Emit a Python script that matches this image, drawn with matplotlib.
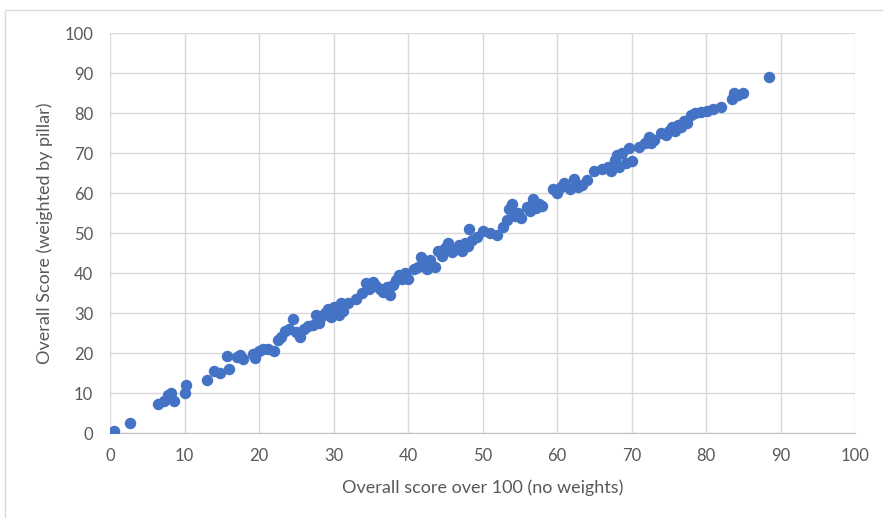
import matplotlib
matplotlib.use("Agg")
import matplotlib.pyplot as plt
from matplotlib.patches import Rectangle

# overall score over 100 (no weights) vs weighted by pillar
x_vals = [0.5, 2.7, 6.5, 7.3, 7.8, 8.2, 8.6, 10.0, 10.2,
          13.0, 14.0, 14.8, 15.7, 16.0, 17.0, 17.5, 17.8,
          19.2, 19.5, 20.0, 20.5, 21.2, 22.0, 22.6, 23.0, 23.5, 24.0, 24.6, 25.0, 25.5,
          26.0, 26.6, 27.2, 27.6, 28.0, 28.5, 28.8, 29.2, 29.6, 30.0, 30.3, 30.7, 31.0, 31.3,
          32.0, 33.0, 33.8, 34.4, 34.8, 35.3, 35.7, 36.2, 36.6, 37.2, 37.6, 38.0, 38.4,
          38.8, 39.2, 39.6, 40.0, 40.8, 41.3, 41.8, 42.2, 42.6, 43.0, 43.6,
          44.0, 44.5, 45.0, 45.4, 45.9, 46.4, 46.8, 47.2, 47.6, 48.0, 48.2, 48.6, 49.2,
          50.0, 51.0, 52.0, 52.8, 53.3, 53.6, 54.0, 54.4, 54.8, 55.2,
          56.0, 56.4, 56.8, 57.2, 57.6, 58.0,
          59.5, 60.0, 60.5, 61.0, 61.8, 62.3, 62.8, 63.4, 64.0,
          65.0, 66.0, 66.8, 67.3, 67.8, 68.0, 68.3, 68.7, 69.2, 69.6, 70.0,
          71.0, 71.8, 72.3, 72.6, 73.0, 74.0, 74.6, 75.0, 75.4, 75.8, 76.2, 76.6, 77.0,
          77.5, 78.0, 78.5, 79.3, 80.2, 81.0, 82.0,
          83.5, 83.7, 84.3, 85.0, 88.5]
y_vals = [0.5, 2.5, 7.3, 8.0, 9.5, 10.0, 8.0, 10.0, 12.0,
          13.3, 15.5, 15.0, 19.3, 16.0, 19.0, 19.6, 18.6,
          19.8, 18.8, 20.5, 21.0, 21.0, 20.5, 23.2, 24.0, 25.6, 26.0, 28.6, 25.2, 24.0,
          26.0, 26.8, 27.0, 29.6, 27.6, 29.2, 30.0, 31.0, 29.0, 31.6, 30.5, 29.5, 32.6, 30.4,
          32.6, 33.5, 35.0, 37.6, 36.0, 37.8, 36.8, 36.0, 35.2, 36.6, 34.6, 37.0, 38.2,
          39.6, 38.6, 40.0, 38.4, 41.0, 41.6, 44.0, 42.0, 41.0, 43.2, 41.6,
          45.6, 44.2, 46.2, 47.6, 45.2, 46.0, 47.0, 45.6, 47.4, 46.8, 51.0, 48.2, 49.0,
          50.6, 50.0, 49.6, 51.6, 53.2, 56.0, 57.2, 54.2, 55.0, 53.8,
          56.6, 55.6, 58.6, 56.2, 57.2, 56.8,
          61.0, 60.0, 61.6, 62.6, 61.0, 63.6, 61.4, 62.0, 63.2,
          65.6, 66.0, 66.6, 65.6, 68.2, 69.6, 66.6, 70.0, 67.6, 71.2, 68.0,
          71.6, 72.6, 74.0, 72.6, 73.2, 75.0, 74.6, 75.4, 76.4, 75.6, 77.0, 76.4, 78.0,
          77.6, 79.6, 80.0, 80.2, 80.6, 81.0, 81.6,
          83.6, 85.0, 84.6, 85.0, 89.0]

x_ticks = list(range(0, 101, 10))
y_ticks = list(range(0, 101, 10))

plt.rcParams['font.family'] = ['Lato', 'DejaVu Sans']

fig = plt.figure(figsize=(8.83, 5.18), dpi=100)
ax = fig.add_axes([110 / 883, 85 / 518, 745 / 883, 400 / 518])

# chart area border
fig.patches.append(Rectangle((5 / 883, -0.01), 1.0, (518 - 10) / 518 + 0.01,
                             transform=fig.transFigure, fill=False,
                             edgecolor='#d9d9d9', linewidth=1.0))

ax.scatter(x_vals, y_vals, s=68, color='#4472c4', zorder=3, linewidths=0)

ax.set_xlim(0, 100)
ax.set_ylim(0, 100)
ax.set_xticks(x_ticks)
ax.set_yticks(y_ticks)
ax.grid(True, color='#d9d9d9', linewidth=1.0, zorder=0)
for s in ['top', 'right', 'left']:
    ax.spines[s].set_visible(False)
ax.spines['bottom'].set_color('#bfbfbf')
ax.tick_params(length=0, labelsize=12, colors='#595959')
ax.tick_params(axis='x', pad=11)
ax.tick_params(axis='y', pad=12)

ax.set_xlabel('Overall score over 100 (no weights)', fontsize=13, color='#595959', labelpad=11)
ax.set_ylabel('Overall Score (weighted by pillar)', fontsize=13, color='#595959', labelpad=8)

fig.savefig('out.png', dpi=100)
